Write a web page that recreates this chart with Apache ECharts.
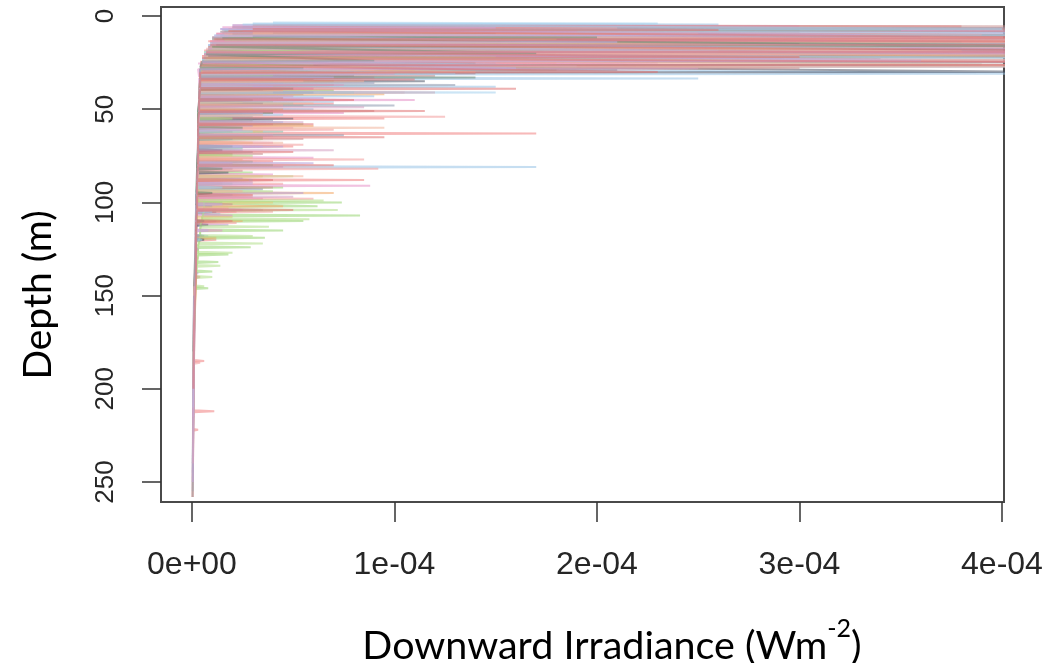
<!DOCTYPE html>
<html>
<head>
<meta charset="utf-8">
<title>Downward irradiance profiles</title>
<script src="https://cdn.jsdelivr.net/npm/echarts@6/dist/echarts.min.js"></script>
<style>
  html, body { margin: 0; padding: 0; background: #ffffff; }
  #chart { width: 1053px; height: 663px; }
</style>
</head>
<body>
<div id="chart"></div>
<script>
// Depth ticks (m) and irradiance ticks (W m^-2)
const depthTicks = [0, 50, 100, 150, 200, 250];
const irrTicks = [0, 1e-4, 2e-4, 3e-4, 4e-4];
const irrTickLabels = ['0e+00', '1e-04', '2e-04', '3e-04', '4e-04'];

// Radiometer casts: [depth (m), downward irradiance (µW m^-2)]
const cast01 = [[5,40],[5.5,380],[6,20],[7,620],[7.5,15],[9,300],[9.5,12],[11,900],[11.5,10],[13,560],[13.5,8],[15,750],[15.5,9],[18,420],[18.5,6],[21,680],[21.5,5],[24,260],[24.5,4],[27,410],[27.5,4],[31,140],[31.5,4],[35.5,4],[36,90],[36.5,4],[40.5,4],[41,120],[41.5,4],[46.5,3.5],[47,70],[47.5,3.5],[54.5,3.5],[55,95],[55.5,3.5],[62.5,3],[63,170],[63.5,3],[69.5,3],[70,50],[70.5,3],[77.5,3],[78,40],[78.5,3],[87.5,2.5],[88,85],[88.5,2.5],[96.5,2.5],[97,30],[97.5,2.5],[104.5,2.5],[105,22],[105.5,2.5],[119.5,2],[120,12],[120.5,2],[139.5,1.5],[140,4],[140.5,1.5],[184.5,1],[185,6],[185.5,1],[211.5,0.8],[212,11],[212.5,0.8],[221.5,0.6],[222,3],[222.5,0.6],[240,0.5],[258,0.3]];
const cast02 = [[8,25],[8.5,200],[9,15],[12,310],[12.5,10],[16,520],[16.5,8],[19,160],[19.5,6],[23,45],[24,5],[26,90],[27,4],[30,60],[30.5,4],[33.5,4],[34,30],[34.5,4],[39.5,3.5],[40,70],[40.5,3.5],[45.5,3.5],[46,40],[46.5,3.5],[51.5,3.5],[52,25],[52.5,3.5],[57.5,3],[58,55],[58.5,3],[65.5,3],[66,35],[66.5,3],[73.5,3],[74,20],[74.5,3],[83.5,3],[84,30],[84.5,3],[91.5,3],[92,45],[92.5,3],[99.5,3],[100,74],[100.5,6],[101.5,6],[102,62],[102.5,6],[106.5,5],[107,83],[107.5,5],[109.5,5],[110,55],[110.5,5],[114.5,4],[115,45],[115.5,4],[118.5,4],[119,36],[119.5,4],[123.5,3],[124,29],[124.5,3],[127.5,3],[128,18],[128.5,3],[131.5,2.5],[132,13],[132.5,2.5],[136.5,2],[137,10],[137.5,2],[145.5,1.5],[146,8],[146.5,1.5],[170,1],[200,0.7],[230,0.5]];
const cast03 = [[4,30],[4.5,260],[5,20],[8,450],[8.5,14],[12,700],[12.5,10],[17,380],[17.5,8],[22,520],[22.5,6],[27,900],[27.5,5],[31,430],[31.5,4],[33,4],[33.5,250],[34,4],[37.5,4],[38,150],[38.5,4],[42.5,4],[43,90],[43.5,4],[49.5,3.5],[50,60],[50.5,3.5],[56.5,3.5],[57,45],[57.5,3.5],[64.5,3],[65,35],[65.5,3],[71.5,3],[72,25],[72.5,3],[80.5,3],[81,170],[81.5,3],[87.5,3],[88,30],[88.5,3],[95.5,2.5],[96,20],[96.5,2.5],[105.5,2.5],[106,14],[106.5,2.5],[117.5,2],[118,8],[118.5,2],[135,1.8],[150,1.5],[180,1],[220,0.6],[255,0.4]];
const cast04 = [[6,35],[6.5,480],[7,22],[10,820],[10.5,14],[14,600],[14.5,10],[19,950],[19.5,7],[23,340],[23.5,5],[26,700],[26.5,4],[29,210],[29.5,4],[31.5,4],[32,80],[32.5,4],[36.5,4],[37,130],[37.5,4],[41.5,3.5],[42,55],[42.5,3.5],[47.5,3.5],[48,100],[48.5,3.5],[55.5,3],[56,40],[56.5,3],[63.5,3],[64,75],[64.5,3],[72.5,3],[73,30],[73.5,3],[81.5,2.5],[82,20],[82.5,2.5],[92.5,2.5],[93,35],[93.5,2.5],[103.5,2],[104,12],[104.5,2],[117.5,2],[118,6],[118.5,2],[130,1.8],[150,1.2],[190,0.8],[240,0.4]];
const cast05 = [[5,20],[5.5,300],[6,15],[9,560],[9.5,12],[13,380],[13.5,9],[16,800],[16.5,8],[20,450],[20.5,6],[25,230],[25.5,3],[28,150],[28.5,3],[32.5,3.5],[33,90],[33.5,3.5],[38.5,3.5],[39,60],[39.5,3.5],[44.5,3.5],[45,110],[45.5,3.5],[51.5,3],[52,75],[52.5,3],[59.5,3],[60,50],[60.5,3],[67.5,3],[68,40],[68.5,3],[75.5,3],[76,60],[76.5,3],[84.5,2.5],[85,40],[85.5,2.5],[90.5,2.5],[91,88],[91.5,2.5],[97.5,2.5],[98,35],[98.5,2.5],[106.5,2],[107,20],[107.5,2],[114.5,2],[115,15],[115.5,2],[139.5,1.5],[140,3],[140.5,1.5],[160,1.2],[200,0.8],[250,0.4]];
const cast06 = [[9,30],[9.5,240],[10,18],[14,470],[14.5,12],[18,300],[18.5,8],[24,620],[24.5,6],[29,110],[29.5,5],[34.5,4],[35,70],[35.5,4],[41.5,4],[42,95],[42.5,4],[49.5,3.5],[50,45],[50.5,3.5],[58.5,3],[59,60],[59.5,3],[67.5,3],[68,30],[68.5,3],[76.5,3],[77,25],[77.5,3],[85.5,3],[86,35],[86.5,3],[94.5,3],[95,70],[95.5,3],[101.5,2.5],[102,45],[102.5,2.5],[109.5,2.5],[110,25],[110.5,2.5],[118.5,2],[119,12],[119.5,2],[145,2],[170,1],[210,0.6]];
const cast07 = [[6,25],[6.5,180],[7,14],[11,360],[11.5,10],[15,520],[15.5,8],[20,280],[20.5,6],[25,150],[25.5,5],[29.5,4],[30,80],[30.5,4],[35.5,4],[36,45],[36.5,4],[43.5,3.5],[44,65],[44.5,3.5],[50.5,3.5],[51,40],[51.5,3.5],[58.5,3],[59,30],[59.5,3],[69.5,3],[70,45],[70.5,3],[78.5,3],[79,60],[79.5,3],[86.5,2.5],[87,25],[87.5,2.5],[94.5,2.5],[95,55],[95.5,2.5],[103.5,2.5],[104,35],[104.5,2.5],[111.5,2],[112,18],[112.5,2],[137.5,1.5],[138,3],[138.5,1.5],[160,1],[200,0.7],[245,0.4]];
const cast08 = [[7,30],[7.5,350],[8,20],[12,260],[12.5,12],[17,640],[17.5,8],[21,200],[21.5,6],[26,120],[26.5,5],[30,60],[30.5,4],[34.5,4],[35,40],[35.5,4],[40.5,3.5],[41,80],[41.5,3.5],[46.5,3.5],[47,50],[47.5,3.5],[53.5,3],[54,30],[54.5,3],[61.5,3],[62,45],[62.5,3],[70.5,3],[71,25],[71.5,3],[79.5,3],[80,40],[80.5,3],[89.5,2.5],[90,20],[90.5,2.5],[99.5,2],[100,15],[100.5,2],[124.5,1.8],[125,3],[125.5,1.8],[140,1.5],[170,1]];
const cast09 = [[9,40],[9.5,150],[10,20],[15,300],[15.5,12],[21,850],[21.5,8],[25,140],[26,5],[30,420],[30.5,4],[34.5,4],[35,115],[35.5,4],[40.5,4],[41,60],[41.5,4],[46.5,3.5],[47,35],[47.5,3.5],[54.5,3],[55,50],[55.5,3],[61.5,3],[62,20],[62.5,3],[71.5,3],[72,15],[72.5,3],[83.5,2.5],[84,18],[84.5,2.5],[94.5,2.5],[95,10],[95.5,2.5],[104.5,2],[105,12],[105.5,2],[111.5,2],[112,8],[112.5,2],[119.5,2],[120,6],[120.5,2],[130,1.5],[150,1],[180,0.7]];
const cast10 = [[10,30],[10.5,160],[11,18],[16,280],[16.5,10],[22,420],[22.5,7],[28,100],[28.5,5],[33.5,4],[34,55],[34.5,4],[40.5,4],[41,40],[41.5,4],[49.5,3.5],[50,30],[50.5,3.5],[61.5,3],[62,35],[62.5,3],[74.5,3],[75,20],[75.5,3],[87.5,2.5],[88,28],[88.5,2.5],[99.5,2.5],[100,40],[100.5,2.5],[107.5,2],[108,20],[108.5,2],[130,2],[150,1.2]];
const cast11 = [[5,30],[5.5,420],[6,20],[8,700],[8.5,14],[12,880],[12.5,10],[16,330],[16.5,8],[20,560],[20.5,6],[24,920],[24.5,5],[28,300],[28.5,4],[31.5,4],[32,120],[32.5,4],[36.5,4],[37,70],[37.5,4],[43.5,3.5],[44,45],[44.5,3.5],[50.5,3.5],[51,90],[51.5,3.5],[57.5,3],[58,40],[58.5,3],[65.5,3],[66,55],[66.5,3],[73.5,3],[74,35],[74.5,3],[82.5,2.5],[83,25],[83.5,2.5],[91.5,2.5],[92,40],[92.5,2.5],[100.5,2],[101,20],[101.5,2],[109.5,2],[110,12],[110.5,2],[125,2],[145,1.5],[180,1],[220,0.6],[258,0.3]];
const cast12 = [[7,25],[7.5,300],[8,16],[11,540],[11.5,10],[14,380],[14.5,9],[18,1000],[18.5,7],[22,610],[22.5,5],[26,390],[26.5,4],[29,180],[29.5,4],[33.5,4],[34,60],[34.5,4],[39.5,3.5],[40,35],[40.5,3.5],[47.5,3.5],[48,55],[48.5,3.5],[55.5,3],[56,30],[56.5,3],[65.5,3],[66,20],[66.5,3],[77.5,2.5],[78,30],[78.5,2.5],[89.5,2.5],[90,15],[90.5,2.5],[101.5,2],[102,10],[102.5,2],[117.5,1.8],[118,5],[118.5,1.8],[135,1.5],[160,1],[200,0.6],[258,0.3]];
const cast13 = [[6,30],[6.5,210],[7,18],[10,390],[10.5,12],[13,650],[13.5,9],[17,470],[17.5,7],[21,300],[21.5,5],[25,180],[25.5,4],[29,90],[29.5,4],[34.5,4],[35,55],[35.5,4],[40.5,3.5],[41,105],[41.5,3.5],[47.5,3.5],[48,45],[48.5,3.5],[53.5,3.5],[54,125],[54.5,3.5],[60.5,3],[61,70],[61.5,3],[68.5,3],[69,55],[69.5,3],[76.5,3],[77,85],[77.5,3],[81.5,3],[82,92],[82.5,3],[89.5,2.5],[90,45],[90.5,2.5],[97.5,2.5],[98,60],[98.5,2.5],[104.5,2],[105,40],[105.5,2],[110.5,2],[111,22],[111.5,2],[129.5,1.5],[130,3],[130.5,1.5],[150,1.2],[185.5,1],[186,4],[186.5,1],[210,0.7],[240,0.5]];
const cast14 = [[12,30],[12.5,180],[13,16],[17,350],[17.5,10],[22,150],[22.5,7],[26,60],[26.5,5],[31.5,4],[32,40],[32.5,4],[37.5,4],[38,30],[38.5,4],[45.5,3.5],[46,25],[46.5,3.5],[54.5,3],[55,20],[55.5,3],[64.5,3],[65,35],[65.5,3],[74.5,3],[75,30],[75.5,3],[85.5,3],[86,50],[86.5,3],[93.5,3],[94,40],[94.5,3],[98.5,3],[99,65],[99.5,6],[103.5,6],[104,72],[104.5,6],[108.5,5],[109,58],[109.5,5],[112.5,4],[113,38],[113.5,4],[117.5,4],[118,30],[118.5,4],[121.5,3],[122,35],[122.5,3],[126.5,3],[127,20],[127.5,3],[133.5,2.5],[134,14],[134.5,2.5],[139.5,2],[140,10],[140.5,2],[144.5,1.8],[145,6],[145.5,1.8],[165,1],[190,0.7]];
const cast15 = [[3.5,40],[4,230],[4.5,25],[7,400],[7.5,15],[10,620],[10.5,11],[15,820],[15.5,8],[19,260],[19.5,6],[23,480],[23.5,5],[27,190],[27.5,4],[31,130],[31.5,4],[35.5,4],[36,90],[36.5,4],[40.5,4],[41,150],[41.5,4],[45.5,3.5],[46,70],[46.5,3.5],[52.5,3.5],[53,45],[53.5,3.5],[61.5,3],[62,30],[62.5,3],[69.5,3],[70,25],[70.5,3],[79.5,3],[80,20],[80.5,3],[91.5,2.5],[92,15],[92.5,2.5],[104.5,2],[105,10],[105.5,2],[119.5,1.8],[120,5],[120.5,1.8],[140,1.5],[170,1],[210,0.6]];
const cast16 = [[8,25],[8.5,190],[9,15],[13,420],[13.5,10],[17,260],[17.5,8],[20,730],[20.5,6],[24,440],[24.5,5],[28,250],[28.5,4],[30.5,4],[31,100],[31.5,4],[36.5,4],[37,75],[37.5,4],[42.5,3.5],[43,50],[43.5,3.5],[48.5,3.5],[49,85],[49.5,3.5],[56.5,3],[57,55],[57.5,3],[63.5,3],[64,40],[64.5,3],[71.5,3],[72,70],[72.5,3],[80.5,3],[81,45],[81.5,3],[88.5,2.5],[89,30],[89.5,2.5],[96.5,2.5],[97,50],[97.5,2.5],[103.5,2],[104,25],[104.5,2],[124.5,1.8],[125,3],[125.5,1.8],[140,1.5],[175,1],[215,0.6]];
const cast17 = [[9,30],[9.5,250],[10,16],[14,540],[14.5,10],[19,380],[19.5,7],[23,860],[23.5,6],[27,520],[27.5,4],[30,140],[30.5,4],[34.5,4],[35,85],[35.5,4],[39.5,4],[40,45],[40.5,4],[46.5,3.5],[47,60],[47.5,3.5],[52.5,3.5],[53,35],[53.5,3.5],[59.5,3],[60,95],[60.5,3],[67.5,3],[68,45],[68.5,3],[75.5,3],[76,30],[76.5,3],[85.5,3],[86,55],[86.5,3],[93.5,2.5],[94,25],[94.5,2.5],[102.5,2],[103,18],[103.5,2],[130,2],[150,1]];
const cast18 = [[11,30],[11.5,200],[12,15],[16,430],[16.5,10],[20,170],[20.5,7],[24,90],[24.5,5],[27.5,4],[28,55],[28.5,4],[32.5,4],[33,140],[33.5,4],[38.5,4],[39,50],[39.5,4],[44.5,3.5],[45,30],[45.5,3.5],[51.5,3],[52,40],[52.5,3],[59.5,3],[60,25],[60.5,3],[69.5,3],[70,20],[70.5,3],[81.5,2.5],[82,15],[82.5,2.5],[94.5,2],[95,10],[95.5,2],[109.5,2],[110,6],[110.5,2],[125,2],[145,1.2]];
const cast19 = [[6,20],[6.5,150],[7,14],[10,330],[10.5,11],[14,210],[14.5,9],[19,590],[19.5,7],[24,360],[24.5,5],[28,160],[28.5,4],[32.5,4],[33,70],[33.5,4],[37.5,4],[38,40],[38.5,4],[44.5,3.5],[45,55],[45.5,3.5],[51.5,3.5],[52,35],[52.5,3.5],[60.5,3],[61,25],[61.5,3],[69.5,3],[70,35],[70.5,3],[78.5,3],[79,20],[79.5,3],[89.5,2.5],[90,30],[90.5,2.5],[100.5,2],[101,15],[101.5,2],[114.5,2],[115,8],[115.5,2],[130,2],[160,1],[200,0.7],[250,0.4]];
const cast20 = [[7,30],[7.5,260],[8,18],[12,480],[12.5,11],[15,960],[15.5,9],[19,540],[19.5,7],[22,300],[22.5,5],[26,640],[26.5,4],[30,230],[30.5,4],[33.5,4],[34,110],[34.5,4],[38.5,4],[39,160],[39.5,4],[44.5,3.5],[45,80],[45.5,3.5],[50.5,3.5],[51,115],[51.5,3.5],[57.5,3],[58,60],[58.5,3],[64.5,3],[65,95],[65.5,3],[72.5,3],[73,50],[73.5,3],[79.5,3],[80,70],[80.5,3],[87.5,2.5],[88,40],[88.5,2.5],[95.5,2.5],[96,30],[96.5,2.5],[103.5,2.5],[104,50],[104.5,2.5],[109.5,2],[110,20],[110.5,2],[140,2],[165,1],[200,0.7]];

const casts = [cast01, cast02, cast03, cast04, cast05, cast06, cast07, cast08, cast09, cast10,
               cast11, cast12, cast13, cast14, cast15, cast16, cast17, cast18, cast19, cast20];
const castColors = ['#f07f7f', '#95d46f', '#98c3e6', '#8a97ad', '#e68fc6', '#f2a866', '#b59ed8', '#79c6b1', '#4a5466', '#e3cb72',
                    '#c98f8f', '#a3a3a3', '#f39a9a', '#b0de88', '#a2d0ec', '#d49ec1', '#f0b39a', '#6d8d76', '#c1abde', '#e07373'];

const MICRO = 1e-6; // µW m^-2 -> W m^-2

function irrLabel(v) {
  const i = irrTicks.findIndex(t => Math.abs(t - v) < 1e-9);
  return i >= 0 ? irrTickLabels[i] : '';
}

const chart = echarts.init(document.getElementById('chart'), null, { renderer: 'canvas' });

chart.setOption({
  animation: false,
  backgroundColor: '#ffffff',
  grid: {
    left: 161, top: 7, width: 843, height: 495,
    show: true, borderColor: '#4a4a4a', borderWidth: 2, backgroundColor: 'transparent',
    containLabel: false
  },
  xAxis: {
    type: 'value',
    position: 'bottom',
    min: -1.53e-5,
    max: 4.01e-4,
    axisLine: { show: false, onZero: false },
    splitLine: { show: false },
    axisTick: {
      show: true, inside: false, length: 20,
      customValues: irrTicks,
      lineStyle: { color: '#333333', width: 1.5 }
    },
    axisLabel: {
      customValues: irrTicks,
      formatter: irrLabel,
      margin: 47,
      fontFamily: 'Liberation Sans, Arial, sans-serif',
      fontSize: 32,
      color: '#262626'
    }
  },
  yAxis: {
    type: 'value',
    position: 'left',
    inverse: true,
    min: -4.83,
    max: 260.7,
    axisLine: { show: false, onZero: false },
    splitLine: { show: false },
    axisTick: {
      show: true, inside: false, length: 19,
      customValues: depthTicks,
      lineStyle: { color: '#333333', width: 1.5 }
    },
    axisLabel: {
      customValues: depthTicks,
      rotate: 90,
      margin: 42,
      fontFamily: 'Liberation Sans, Arial, sans-serif',
      fontSize: 26,
      color: '#262626'
    }
  },
  series: casts.map((c, i) => ({
    type: 'line',
    data: c.map(([d, e]) => [e * MICRO, d]),
    showSymbol: false,
    symbol: 'none',
    silent: true,
    clip: true,
    lineStyle: { color: castColors[i], width: 2, opacity: 0.55 },
    z: 2
  })),
  graphic: [
    {
      type: 'text',
      x: 612, y: 641,
      style: {
        text: '{t|Downward Irradiance (Wm}{s|-2}{t|)}',
        align: 'center', verticalAlign: 'middle',
        fill: '#000000',
        rich: {
          t: { fontFamily: 'Lato, "Open Sans", sans-serif', fontSize: 39.5, lineHeight: 50, verticalAlign: 'bottom', fill: '#000' },
          s: { fontFamily: 'Lato, "Open Sans", sans-serif', fontSize: 25, lineHeight: 50, verticalAlign: 'top', fill: '#000' }
        }
      }
    },
    {
      type: 'text',
      x: 38, y: 295,
      rotation: Math.PI / 2,
      style: {
        text: 'Depth (m)',
        align: 'center', verticalAlign: 'middle',
        fontFamily: 'Lato, "Open Sans", sans-serif',
        fontSize: 39,
        fill: '#000000'
      }
    }
  ]
});
</script>
</body>
</html>
